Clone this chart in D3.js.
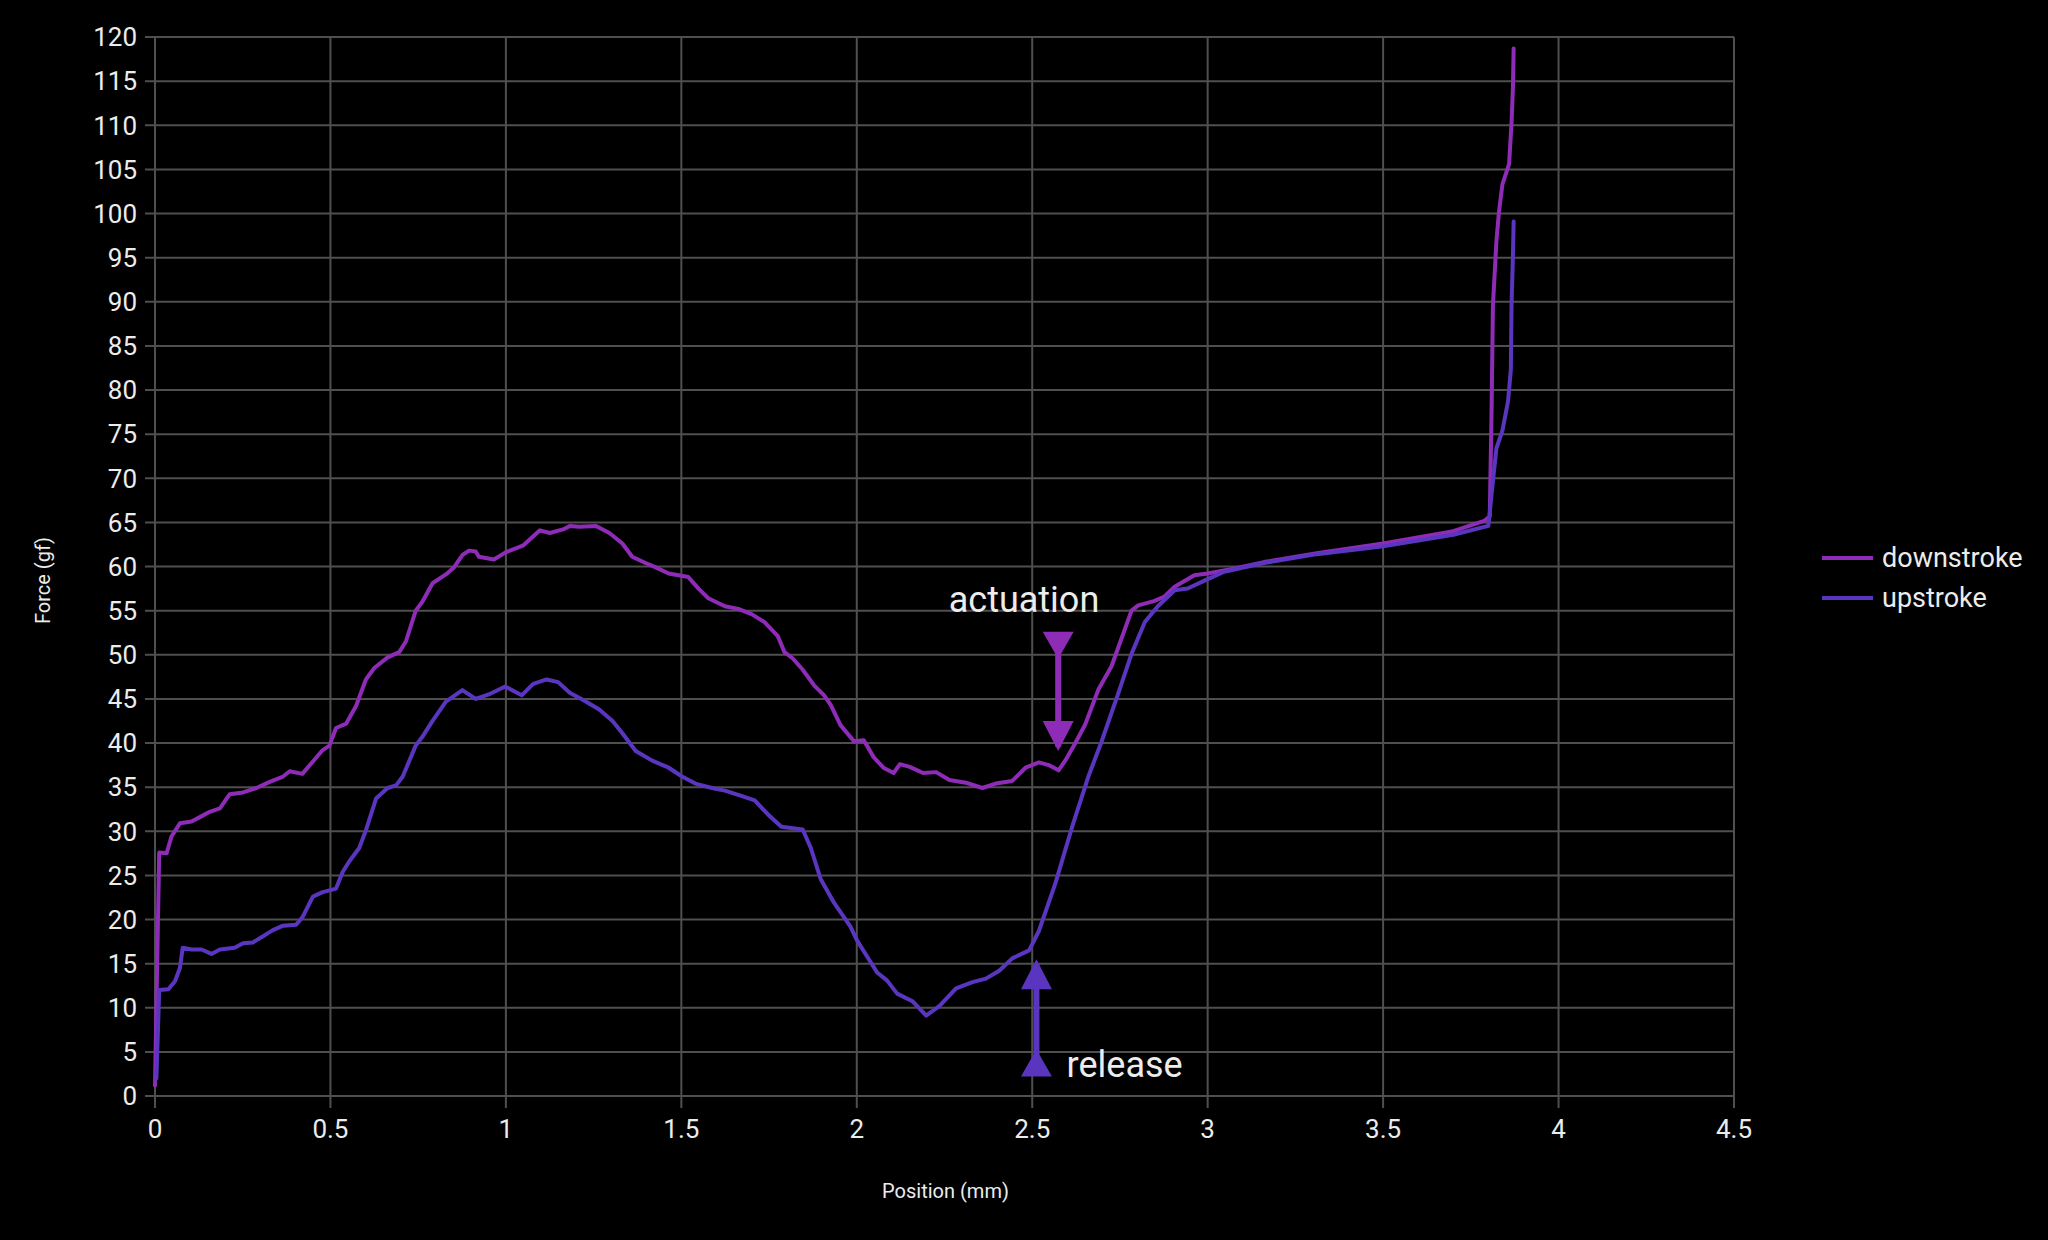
<!DOCTYPE html>
<html>
<head>
<meta charset="utf-8">
<script src="https://cdn.jsdelivr.net/npm/d3@7"></script>
<style>
  html, body { margin: 0; padding: 0; background: #000; }
  svg { display: block; }
  text { font-family: Roboto, "Noto Sans", sans-serif; fill: #ececec; }
</style>
</head>
<body>
<svg id="chart" width="2048" height="1240"></svg>
<script>
// ─── Data (position mm, force gf) ─────────────────────────────────────────────

const downstroke = [
  [0, 1.2], [0.012, 27.6], [0.033, 27.5], [0.047, 29.4], [0.071, 30.9], [0.104, 31.1],
  [0.128, 31.6], [0.156, 32.2], [0.185, 32.6], [0.213, 34.2], [0.251, 34.4], [0.289, 34.9],
  [0.327, 35.6], [0.365, 36.2], [0.384, 36.8], [0.42, 36.5], [0.45, 37.9], [0.478, 39.2],
  [0.497, 39.7], [0.516, 41.7], [0.545, 42.2], [0.573, 44.2], [0.601, 47.2], [0.625, 48.5],
  [0.663, 49.7], [0.696, 50.3], [0.715, 51.5], [0.743, 55.0], [0.762, 56.0], [0.791, 58.1],
  [0.829, 59.1], [0.852, 59.9], [0.876, 61.3], [0.895, 61.8], [0.914, 61.7], [0.923, 61.1],
  [0.966, 60.8], [0.999, 61.6], [1.05, 62.4], [1.097, 64.1], [1.125, 63.8], [1.163, 64.2],
  [1.182, 64.6], [1.21, 64.5], [1.257, 64.6], [1.295, 63.8], [1.332, 62.6], [1.36, 61.1],
  [1.398, 60.4], [1.427, 59.9], [1.464, 59.2], [1.492, 59.0], [1.52, 58.8], [1.549, 57.5],
  [1.577, 56.4], [1.624, 55.5], [1.662, 55.2], [1.7, 54.6], [1.737, 53.7], [1.775, 52.1],
  [1.794, 50.3], [1.817, 49.6], [1.846, 48.3], [1.879, 46.5], [1.907, 45.4], [1.926, 44.3],
  [1.954, 42.0], [1.992, 40.2], [2.02, 40.3], [2.048, 38.4], [2.076, 37.2], [2.105, 36.6],
  [2.123, 37.6], [2.151, 37.3], [2.189, 36.6], [2.226, 36.7], [2.264, 35.8], [2.311, 35.5],
  [2.358, 34.9], [2.396, 35.4], [2.443, 35.7], [2.481, 37.2], [2.519, 37.8], [2.547, 37.5],
  [2.575, 36.9], [2.594, 38.0], [2.623, 40.0], [2.651, 42.1], [2.689, 46.1], [2.726, 48.7],
  [2.755, 51.9], [2.783, 55.0], [2.802, 55.6], [2.849, 56.1], [2.877, 56.6], [2.906, 57.7],
  [2.962, 59.0], [3.0, 59.2], [3.066, 59.7], [3.16, 60.5], [3.311, 61.5], [3.5, 62.6],
  [3.7, 64.0], [3.79, 65.2], [3.804, 65.7], [3.809, 77.4], [3.813, 89.6], [3.823, 96.9],
  [3.83, 100.1], [3.84, 103.3], [3.859, 105.6], [3.866, 110.2], [3.870, 114.3], [3.872, 118.7]
];

const upstroke = [
  [0.004, 2.0], [0.012, 12.0], [0.038, 12.1], [0.057, 13.0], [0.071, 14.5], [0.079, 16.8],
  [0.104, 16.6], [0.133, 16.6], [0.161, 16.1], [0.185, 16.6], [0.227, 16.8], [0.251, 17.3],
  [0.279, 17.4], [0.308, 18.1], [0.336, 18.8], [0.365, 19.3], [0.402, 19.4], [0.421, 20.3],
  [0.45, 22.6], [0.478, 23.1], [0.516, 23.5], [0.535, 25.4], [0.554, 26.6], [0.582, 28.1],
  [0.601, 30.1], [0.63, 33.7], [0.663, 34.9], [0.687, 35.2], [0.706, 36.2], [0.743, 39.7],
  [0.762, 40.7], [0.791, 42.5], [0.829, 44.7], [0.876, 46.0], [0.914, 45.0], [0.951, 45.5],
  [0.998, 46.4], [1.045, 45.4], [1.078, 46.7], [1.116, 47.2], [1.149, 46.9], [1.182, 45.7],
  [1.219, 44.9], [1.266, 43.8], [1.304, 42.5], [1.332, 41.1], [1.37, 39.1], [1.417, 38.0],
  [1.464, 37.2], [1.502, 36.2], [1.54, 35.4], [1.587, 34.9], [1.624, 34.6], [1.671, 34.0],
  [1.709, 33.5], [1.747, 31.9], [1.785, 30.5], [1.846, 30.2], [1.869, 28.1], [1.897, 24.6],
  [1.935, 21.9], [1.982, 19.2], [2.001, 17.6], [2.058, 14.0], [2.086, 13.1], [2.115, 11.6],
  [2.16, 10.7], [2.198, 9.1], [2.236, 10.2], [2.283, 12.2], [2.33, 12.9], [2.368, 13.3],
  [2.406, 14.2], [2.443, 15.6], [2.491, 16.5], [2.519, 18.7], [2.566, 24.1], [2.613, 30.4],
  [2.66, 36.2], [2.698, 40.2], [2.745, 45.6], [2.783, 50.1], [2.821, 53.7], [2.858, 55.5],
  [2.887, 56.6], [2.906, 57.3], [2.943, 57.5], [2.991, 58.4], [3.047, 59.4], [3.16, 60.4],
  [3.311, 61.4], [3.5, 62.3], [3.7, 63.6], [3.8, 64.6], [3.813, 69.7], [3.823, 73.4],
  [3.84, 75.4], [3.856, 78.7], [3.864, 82.3], [3.866, 89.6], [3.87, 95.3], [3.872, 99.1]
];

const seriesNames  = ["downstroke", "upstroke"];
const seriesColors = ["#8e2cb8", "#5a36c0"];
const xTicks = [0, 0.5, 1, 1.5, 2, 2.5, 3, 3.5, 4, 4.5];
const yTicks = d3.range(0, 121, 5);

// annotation arrows, in data units
const annotations = [
  { label: "actuation", x: 2.574, yTop: 52.6, yBot: 39.1, dir: "down", color: "#8e2cb8",
    labelX: 2.262, labelY: 54.85 },
  { label: "release",   x: 2.512, yTop: 15.5, yBot: 2.2,  dir: "up",   color: "#5a36c0",
    labelX: 2.598, labelY: 2.2 }
];

// ─── Layout ──────────────────────────────────────────────────────────────────

const M = { left: 155, right: 2048 - 1734, top: 37, bottom: 1240 - 1096 };
const W = 2048 - M.left - M.right;
const H = 1240 - M.top - M.bottom;

const svg = d3.select("#chart");
const g = svg.append("g").attr("transform", `translate(${M.left},${M.top})`);

const x = d3.scaleLinear().domain([0, 4.5]).range([0, W]);
const y = d3.scaleLinear().domain([0, 120]).range([H, 0]);

// ─── Grid + ticks ─────────────────────────────────────────────────────────────

const gridColor = "#4f4f4f";

g.append("g").selectAll("line").data(yTicks).join("line")
  .attr("x1", -10).attr("x2", W)
  .attr("y1", d => y(d)).attr("y2", d => y(d))
  .attr("stroke", gridColor).attr("stroke-width", 2);

g.append("g").selectAll("line").data(xTicks).join("line")
  .attr("x1", d => x(d)).attr("x2", d => x(d))
  .attr("y1", 0).attr("y2", H + 12)
  .attr("stroke", gridColor).attr("stroke-width", 2);

g.append("g").selectAll("text").data(yTicks).join("text")
  .attr("x", -18).attr("y", d => y(d))
  .attr("dy", "0.36em")
  .attr("text-anchor", "end")
  .attr("font-size", 26)
  .text(d => d);

g.append("g").selectAll("text").data(xTicks).join("text")
  .attr("x", d => x(d)).attr("y", H + 42)
  .attr("text-anchor", "middle")
  .attr("font-size", 26)
  .text(d => d);

// axis titles
svg.append("text")
  .attr("x", M.left + W / 2 + 1).attr("y", 1198)
  .attr("text-anchor", "middle").attr("font-size", 20)
  .text("Position (mm)");

svg.append("text")
  .attr("transform", `translate(50,${M.top + H / 2 + 14}) rotate(-90)`)
  .attr("text-anchor", "middle").attr("font-size", 20)
  .text("Force (gf)");

// ─── Lines ───────────────────────────────────────────────────────────────────

const line = d3.line().x(d => x(d[0])).y(d => y(d[1]));

[downstroke, upstroke].forEach((data, i) => {
  g.append("path")
    .datum(data)
    .attr("d", line)
    .attr("fill", "none")
    .attr("stroke", seriesColors[i])
    .attr("stroke-width", 4)
    .attr("stroke-linejoin", "round")
    .attr("stroke-linecap", "round");
});

// ─── Annotations ─────────────────────────────────────────────────────────────

const headH = 27, headW = 31;

annotations.forEach(a => {
  const cx = x(a.x), yt = y(a.yTop), yb = y(a.yBot);
  const ag = g.append("g").attr("fill", a.color).attr("stroke", "none");
  ag.append("line")
    .attr("x1", cx).attr("x2", cx)
    .attr("y1", yt + 4).attr("y2", yb - 4)
    .attr("stroke", a.color).attr("stroke-width", 6);
  if (a.dir === "down") {
    ag.append("path").attr("d", `M${cx - headW / 2},${yt} L${cx + headW / 2},${yt} L${cx},${yt + headH} Z`);
    ag.append("path").attr("d", `M${cx - headW / 2},${yb - headH - 3} L${cx + headW / 2},${yb - headH - 3} L${cx},${yb} Z`);
  } else {
    ag.append("path").attr("d", `M${cx - headW / 2},${yt + headH + 3} L${cx + headW / 2},${yt + headH + 3} L${cx},${yt} Z`);
    ag.append("path").attr("d", `M${cx - headW / 2},${yb} L${cx + headW / 2},${yb} L${cx},${yb - headH} Z`);
  }
  g.append("text")
    .attr("x", x(a.labelX)).attr("y", y(a.labelY))
    .attr("font-size", 36)
    .text(a.label);
});

// ─── Legend ──────────────────────────────────────────────────────────────────

const legend = svg.append("g").attr("transform", "translate(1822,558)");
seriesNames.forEach((name, i) => {
  const row = legend.append("g").attr("transform", `translate(0,${i * 40})`);
  row.append("line")
    .attr("x1", 0).attr("x2", 51).attr("y1", 0).attr("y2", 0)
    .attr("stroke", seriesColors[i]).attr("stroke-width", 4);
  row.append("text")
    .attr("x", 60).attr("y", 0).attr("dy", "0.34em")
    .attr("font-size", 27)
    .text(name);
});
</script>
</body>
</html>
